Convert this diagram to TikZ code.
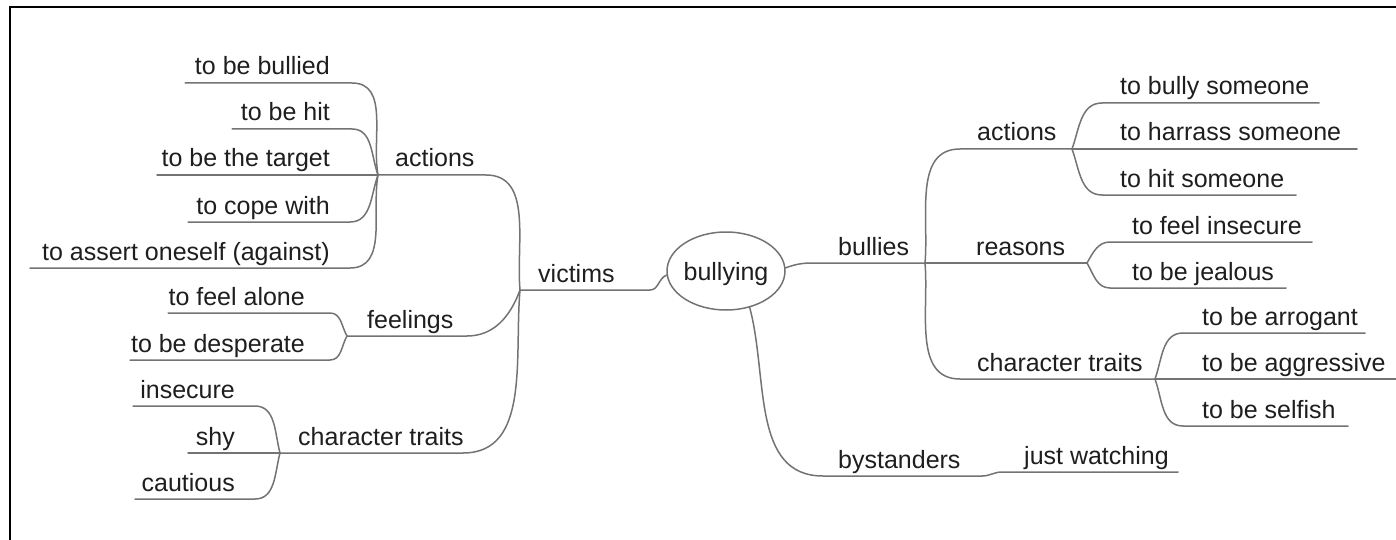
\documentclass[tikz,border=0pt]{standalone}
\usepackage{fontspec}
\setmainfont{Liberation Sans}
\usetikzlibrary{shapes.geometric}
\definecolor{linegray}{RGB}{115,115,115}
\definecolor{textgray}{RGB}{30,30,30}
\begin{document}
\begin{tikzpicture}[x=1pt,y=-1pt,
  lbl/.style={inner sep=0pt,text=textgray,font=\fontsize{25}{30}\selectfont},
  conn/.style={draw=linegray,line width=1.5pt,line cap=round},
  frame/.style={draw=black,line width=2pt}]
\useasboundingbox (0,0) rectangle (1396,540);
% frame
\coordinate (f1) at (10,540);
\coordinate (f2) at (10,7);
\coordinate (f3) at (1396,7);
\draw[frame] (f1) -- (f2) -- (f3);

% centre
\node[ellipse,draw=linegray,line width=1.5pt,minimum width=118pt,minimum height=78pt,inner sep=0pt] (bullying) at (726,271) {};
\node[lbl,anchor=base] (bullyingtxt) at (726,280) {bullying};

% ---------- left: victims ----------
\coordinate (JV) at (520,290);
\coordinate (vicR) at (650,290);
\node[lbl,anchor=base west] (victims) at (538,282) {victims};

\coordinate (JA) at (378,175);
\coordinate (actLR) at (486,175);
\node[lbl,anchor=base west] (actionsL) at (395,167) {actions};

\coordinate (JF) at (347,336);
\coordinate (feelR) at (467,336);
\node[lbl,anchor=base west] (feelings) at (367,328) {feelings};

\coordinate (JC) at (280,453);
\coordinate (ctLR) at (463,453);
\node[lbl,anchor=base west] (ctL) at (298,445) {character traits};

% actions children
\node[lbl,anchor=base east] (bullied) at (330,75) {to be bullied};
\coordinate (bulliedL) at (185,83); \coordinate (bulliedR) at (352,83);
\node[lbl,anchor=base east] (hit) at (330,121) {to be hit};
\coordinate (hitL) at (232,129); \coordinate (hitR) at (352,129);
\node[lbl,anchor=base east] (target) at (330,167) {to be the target};
\coordinate (targetL) at (157,175);
\node[lbl,anchor=base east] (cope) at (330,214) {to cope with};
\coordinate (copeL) at (188,222); \coordinate (copeR) at (350,222);
\node[lbl,anchor=base east] (assert) at (330,260) {to assert oneself (against)};
\coordinate (assertL) at (30,268); \coordinate (assertR) at (350,268);

% feelings children
\node[lbl,anchor=base east] (alone) at (305,305) {to feel alone};
\coordinate (aloneL) at (168,313); \coordinate (aloneR) at (330,313);
\node[lbl,anchor=base east] (desperate) at (305,352) {to be desperate};
\coordinate (despL) at (130,360); \coordinate (despR) at (330,360);

% character traits children
\node[lbl,anchor=base east] (insecure) at (235,398) {insecure};
\coordinate (insL) at (133,406); \coordinate (insR) at (255,406);
\node[lbl,anchor=base east] (shy) at (235,445) {shy};
\coordinate (shyL) at (188,453);
\node[lbl,anchor=base east] (cautious) at (235,491) {cautious};
\coordinate (cauL) at (135,499); \coordinate (cauR) at (255,499);

% ---------- right: bullies ----------
\coordinate (bulL) at (813,263);
\coordinate (JB) at (925,263);
\node[lbl,anchor=base west] (bullies) at (838,255) {bullies};

\coordinate (actRL) at (960,149);
\coordinate (JR1) at (1072,149);
\node[lbl,anchor=base west] (actionsR) at (977,141) {actions};

\coordinate (JR2) at (1087,263);
\node[lbl,anchor=base west] (reasons) at (976,255) {reasons};

\coordinate (ctRL) at (960,379);
\coordinate (JR3) at (1155,379);
\node[lbl,anchor=base west] (ctR) at (977,371) {character traits};

\node[lbl,anchor=base west] (bsome) at (1120,95) {to bully someone};
\coordinate (bsomeL) at (1102,103); \coordinate (bsomeR) at (1319,103);
\node[lbl,anchor=base west] (harrass) at (1120,141) {to harrass someone};
\coordinate (harrassR) at (1357,149);
\node[lbl,anchor=base west] (hsome) at (1120,187) {to hit someone};
\coordinate (hsomeL) at (1102,195); \coordinate (hsomeR) at (1296,195);

\node[lbl,anchor=base west] (finsec) at (1132,234) {to feel insecure};
\coordinate (finsecL) at (1110,242); \coordinate (finsecR) at (1312,242);
\node[lbl,anchor=base west] (jealous) at (1132,280) {to be jealous};
\coordinate (jealL) at (1110,288); \coordinate (jealR) at (1286,288);

\node[lbl,anchor=base west] (arrogant) at (1202,325) {to be arrogant};
\coordinate (arrL) at (1183,333); \coordinate (arrR) at (1365,333);
\node[lbl,anchor=base west] (aggr) at (1202,371) {to be aggressive};
\coordinate (aggrR) at (1396,379);
\node[lbl,anchor=base west] (selfish) at (1202,418) {to be selfish};
\coordinate (selfL) at (1183,426); \coordinate (selfR) at (1348,426);

% ---------- bystanders ----------
\coordinate (bysL) at (823,476);
\coordinate (JS) at (982,476);
\node[lbl,anchor=base west] (bystanders) at (838,468) {bystanders};
\coordinate (jwL) at (1002,472); \coordinate (jwR) at (1178,472);
\node[lbl,anchor=base west] (jw) at (1024,464) {just watching};

% ---------- connectors ----------
\draw[conn] (bulliedL) -- (bulliedR) to[out=0,in=100] (JA);
\draw[conn] (hitL) -- (hitR) to[out=0,in=110] (JA);
\draw[conn] (targetL) -- (JA);
\draw[conn] (copeL) -- (copeR) to[out=0,in=-110] (JA);
\draw[conn] (assertL) -- (assertR) to[out=0,in=-100] (JA);

\draw[conn] (aloneL) -- (aloneR) to[out=0,in=120] (JF);
\draw[conn] (despL) -- (despR) to[out=0,in=-120] (JF);

\draw[conn] (insL) -- (insR) to[out=0,in=105] (JC);
\draw[conn] (shyL) -- (JC);
\draw[conn] (cauL) -- (cauR) to[out=0,in=-105] (JC);

\draw[conn] (JA) -- (actLR) to[out=0,in=95] (JV);
\draw[conn] (JF) -- (feelR) to[out=0,in=-110] (JV);
\draw[conn] (JC) -- (ctLR) to[out=0,in=-95] (JV);
\draw[conn] (JV) -- (vicR) to[out=0,in=200] (bullying.184);

\draw[conn] (bullying.3) to[out=20,in=180] (bulL) -- (JB);
\draw[conn] (JB) to[out=85,in=180] (actRL) -- (JR1);
\draw[conn] (JB) -- (JR2);
\draw[conn] (JB) to[out=-85,in=180] (ctRL) -- (JR3);

\draw[conn] (JR1) to[out=70,in=180] (bsomeL) -- (bsomeR);
\draw[conn] (JR1) -- (harrassR);
\draw[conn] (JR1) to[out=-70,in=180] (hsomeL) -- (hsomeR);

\draw[conn] (JR2) to[out=60,in=180] (finsecL) -- (finsecR);
\draw[conn] (JR2) to[out=-60,in=180] (jealL) -- (jealR);

\draw[conn] (JR3) to[out=70,in=180] (arrL) -- (arrR);
\draw[conn] (JR3) -- (aggrR);
\draw[conn] (JR3) to[out=-70,in=180] (selfL) -- (selfR);

\draw[conn] (bullying.-57) to[out=-75,in=180] (bysL) -- (JS);
\draw[conn] (JS) to[out=0,in=180] (jwL) -- (jwR);
\end{tikzpicture}
\end{document}
